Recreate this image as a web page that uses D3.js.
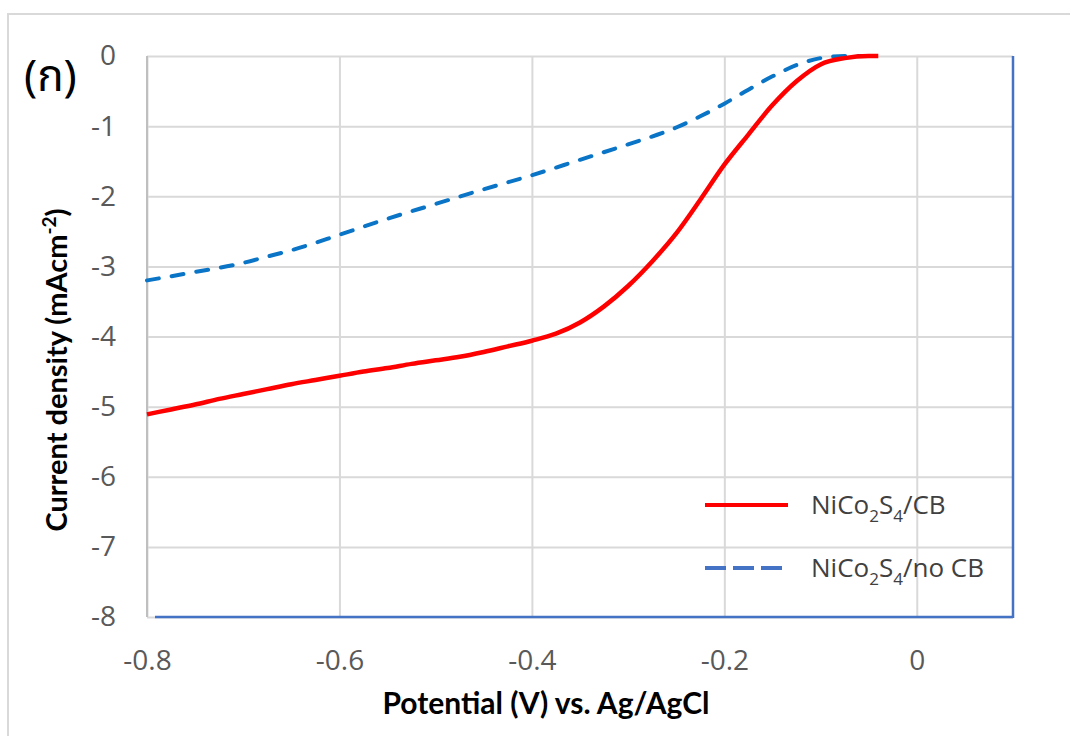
<!DOCTYPE html>
<html>
<head>
<meta charset="utf-8">
<script src="https://cdn.jsdelivr.net/npm/d3@7"></script>
<style>
  body { margin: 0; background: #fff; }
  svg { display: block; }
</style>
</head>
<body>
<div id="chart"></div>
<script>
// tick values
const xTicks = [-0.8, -0.6, -0.4, -0.2, 0]
const yTicks = [0, -1, -2, -3, -4, -5, -6, -7, -8]

// NiCo2S4/CB (red, solid)
const redPotential = [-0.8, -0.775, -0.75, -0.725, -0.7, -0.675, -0.65, -0.625, -0.6, -0.575, -0.55, -0.525,
  -0.5, -0.475, -0.45, -0.425, -0.4, -0.375, -0.35, -0.325, -0.3, -0.275, -0.25, -0.225,
  -0.2, -0.175, -0.15, -0.125, -0.1, -0.075, -0.05, -0.04]
const redCurrent = [-5.11, -5.04, -4.97, -4.89, -4.82, -4.75, -4.68, -4.62, -4.56, -4.50, -4.45, -4.39,
  -4.34, -4.29, -4.22, -4.14, -4.06, -3.96, -3.80, -3.57, -3.28, -2.93, -2.53, -2.05,
  -1.55, -1.12, -0.70, -0.36, -0.12, -0.03, 0, 0]

// NiCo2S4/no CB (blue, dashed)
const bluePotential = [-0.8, -0.75, -0.7, -0.675, -0.65, -0.6, -0.55, -0.5, -0.45, -0.4, -0.35, -0.3,
  -0.25, -0.225, -0.2, -0.175, -0.15, -0.125, -0.1, -0.075, -0.04]
const blueCurrent = [-3.20, -3.08, -2.95, -2.86, -2.77, -2.55, -2.32, -2.11, -1.90, -1.70, -1.48, -1.26,
  -1.02, -0.86, -0.68, -0.48, -0.29, -0.13, -0.03, 0, 0]

const W = 1070, H = 736
const plotLeft = 147, plotTop = 56, plotRight = 1013, plotBottom = 617
const plotW = plotRight - plotLeft, plotH = plotBottom - plotTop

const svg = d3.select('#chart').append('svg')
  .attr('width', W)
  .attr('height', H)

// outer frame (runs off the picture at right and bottom)
svg.append('rect')
  .attr('x', 8).attr('y', 14)
  .attr('width', W + 20).attr('height', H + 20)
  .attr('fill', 'none')
  .attr('stroke', '#d9d9d9')
  .attr('stroke-width', 2)

const x = d3.scaleLinear().domain([-0.8, 0.1]).range([plotLeft, plotRight])
const y = d3.scaleLinear().domain([-8, 0]).range([plotBottom, plotTop])

const tickFont = '"Open Sans", sans-serif'

// y axis + horizontal grid
const yAxis = svg.append('g')
  .attr('transform', `translate(${plotLeft},0)`)
  .call(d3.axisLeft(y).tickValues(yTicks).tickSize(-plotW).tickPadding(31))
yAxis.select('.domain').remove()
yAxis.selectAll('line').attr('stroke', '#d9d9d9').attr('stroke-width', 2)
yAxis.selectAll('text')
  .attr('fill', '#595959')
  .style('font-family', tickFont)
  .style('font-size', '28px')
  .text(d => d === 0 ? '0' : '-' + Math.abs(d))

// x axis + vertical grid
const xAxis = svg.append('g')
  .attr('transform', `translate(0,${plotBottom})`)
  .call(d3.axisBottom(x).tickValues(xTicks).tickSize(-plotH).tickPadding(33))
xAxis.select('.domain').remove()
xAxis.selectAll('line').attr('stroke', '#d9d9d9').attr('stroke-width', 2)
xAxis.selectAll('text')
  .attr('fill', '#595959')
  .style('font-family', tickFont)
  .style('font-size', '28px')
  .text(d => d === 0 ? '0' : '-' + d3.format('.1f')(Math.abs(d)))

// left axis line
svg.append('line')
  .attr('x1', plotLeft).attr('x2', plotLeft).attr('y1', plotTop).attr('y2', plotBottom)
  .attr('stroke', '#bfbfbf').attr('stroke-width', 2)

// secondary (blue) frame lines: bottom and right
svg.append('line')
  .attr('x1', plotLeft + 8).attr('x2', plotRight).attr('y1', plotBottom).attr('y2', plotBottom)
  .attr('stroke', '#4472c4').attr('stroke-width', 2.5)
svg.append('line')
  .attr('x1', plotRight).attr('x2', plotRight).attr('y1', plotTop).attr('y2', plotBottom + 1)
  .attr('stroke', '#4472c4').attr('stroke-width', 2.5)

// curves
const line = d3.line()
  .x(d => x(d[0]))
  .y(d => y(d[1]))
  .curve(d3.curveMonotoneX)

const blueData = d3.zip(bluePotential, blueCurrent)
const redData = d3.zip(redPotential, redCurrent)

svg.append('path')
  .datum(blueData)
  .attr('d', line)
  .attr('fill', 'none')
  .attr('stroke', '#0a74c6')
  .attr('stroke-width', 4)
  .attr('stroke-dasharray', '12,13')
  .attr('stroke-linecap', 'round')

svg.append('path')
  .datum(redData)
  .attr('d', line)
  .attr('fill', 'none')
  .attr('stroke', '#ff0000')
  .attr('stroke-width', 4.5)
  .attr('stroke-linejoin', 'round')

// legend
const legendItems = [
  { parts: [['NiCo', 0], ['2', 1], ['S', 0], ['4', 1], ['/CB', 0]], color: '#ff0000', dash: null, yPos: 505 },
  { parts: [['NiCo', 0], ['2', 1], ['S', 0], ['4', 1], ['/no CB', 0]], color: '#4472c4', dash: '21,7', yPos: 568 }
]
const legend = svg.append('g')
legendItems.forEach(item => {
  legend.append('line')
    .attr('x1', 705).attr('x2', 788)
    .attr('y1', item.yPos).attr('y2', item.yPos)
    .attr('stroke', item.color)
    .attr('stroke-width', 4)
    .attr('stroke-dasharray', item.dash)
  const t = legend.append('text')
    .attr('x', 811).attr('y', item.yPos + 9)
    .attr('fill', '#404040')
    .style('font-family', tickFont)
    .style('font-size', '26px')
  item.parts.forEach(([s, sub], i) => {
    const prevSub = i > 0 ? item.parts[i - 1][1] : 0
    t.append('tspan')
      .attr('dy', sub && !prevSub ? 8 : (!sub && prevSub ? -8 : 0))
      .style('font-size', sub ? '17px' : '26px')
      .text(s)
  })
})

// axis titles
svg.append('text')
  .attr('x', 546).attr('y', 714)
  .attr('text-anchor', 'middle')
  .style('font-family', 'Lato, sans-serif')
  .style('font-weight', 'bold')
  .style('font-size', '30px')
  .attr('fill', '#000')
  .text('Potential (V) vs. Ag/AgCl')

const yTitle = svg.append('text')
  .attr('transform', 'translate(67,370) rotate(-90)')
  .attr('text-anchor', 'middle')
  .style('font-family', 'Lato, sans-serif')
  .style('font-weight', 'bold')
  .style('font-size', '29px')
  .attr('fill', '#000')
yTitle.append('tspan').text('Current density (mAcm')
yTitle.append('tspan').attr('dy', -11).style('font-size', '19px').text('-2')
yTitle.append('tspan').attr('dy', 11).text(')')

// panel label
svg.append('text')
  .attr('x', 24).attr('y', 91)
  .style('font-family', '"Noto Sans Thai", "Noto Sans", "Open Sans", sans-serif')
  .style('font-size', '44px')
  .attr('fill', '#000')
  .text('(ก)')
</script>
</body>
</html>
